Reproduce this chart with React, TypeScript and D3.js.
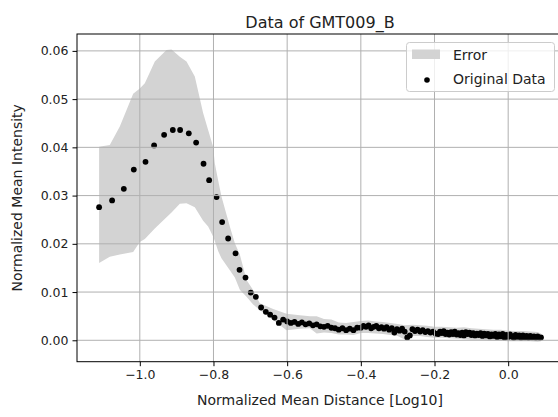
import React, { useRef, useEffect } from 'react'
import * as d3 from 'd3'

// log10 of normalized mean distance
const distX = [
  -1.1105, -1.0752, -1.0434, -1.0163, -0.9845, -0.9612, -0.934, -0.9104, -0.8906, -0.867,
  -0.8471, -0.827, -0.8118, -0.7917, -0.7765, -0.7602, -0.7401, -0.7293, -0.7131, -0.6988,
  -0.685, -0.6707, -0.6579, -0.6462, -0.6343, -0.6226, -0.6109,
  -0.6, -0.59, -0.58, -0.57, -0.56, -0.55, -0.54, -0.53, -0.52, -0.51,
  -0.5, -0.49, -0.48, -0.47, -0.46, -0.45, -0.44, -0.43, -0.42, -0.41,
  -0.4, -0.393, -0.386, -0.379, -0.372, -0.365, -0.358, -0.351, -0.344, -0.337,
  -0.33, -0.323, -0.316, -0.309, -0.302, -0.295, -0.288, -0.281, -0.274, -0.267,
  -0.26, -0.253, -0.246, -0.239, -0.232, -0.225, -0.218, -0.211, -0.204, -0.197,
  -0.19, -0.185, -0.18, -0.175, -0.17, -0.165, -0.16, -0.155, -0.15, -0.145,
  -0.14, -0.135, -0.13, -0.125, -0.12, -0.115, -0.11, -0.105, -0.1, -0.095,
  -0.09, -0.085, -0.08, -0.075, -0.07, -0.065, -0.06, -0.055, -0.05, -0.045,
  -0.04, -0.035, -0.03, -0.025, -0.02, -0.015, -0.01, -0.005, 0.0, 0.005,
  0.01, 0.015, 0.02, 0.025, 0.03, 0.035, 0.04, 0.045, 0.05, 0.055,
  0.06, 0.065, 0.07, 0.075, 0.08, 0.085, 0.089,
]

// normalized mean intensity for each point above
const intensity = [
  0.0276, 0.029, 0.0314, 0.0354, 0.037, 0.0404, 0.0426, 0.0436, 0.0436, 0.0429,
  0.041, 0.0366, 0.0332, 0.0297, 0.0245, 0.0211, 0.018, 0.0146, 0.013, 0.0099,
  0.009, 0.0068, 0.0059, 0.0053, 0.0047, 0.0036, 0.0043,
  0.0039, 0.0036, 0.0038, 0.0034, 0.0037, 0.0033, 0.0035, 0.0031, 0.0033, 0.0029,
  0.0028, 0.003, 0.0026, 0.0025, 0.0022, 0.0025, 0.0021, 0.0024, 0.0021, 0.0026,
  0.0026, 0.003, 0.0028, 0.0031, 0.0025, 0.0028, 0.003, 0.0025, 0.0027, 0.0024,
  0.0027, 0.0022, 0.0025, 0.0016, 0.0023, 0.002, 0.0024, 0.0018, 0.0006, 0.001,
  0.0023, 0.0019, 0.0022, 0.0018, 0.0021, 0.0017, 0.0019, 0.0016, 0.0018, 0.0014,
  0.0013, 0.0018, 0.0015, 0.0019, 0.0013, 0.0016, 0.0012, 0.0017, 0.0013, 0.0018,
  0.0012, 0.0015, 0.0011, 0.0016, 0.001, 0.0017, 0.0013, 0.0016, 0.0011, 0.0015,
  0.001, 0.0014, 0.0011, 0.0015, 0.0009, 0.0014, 0.001, 0.0013, 0.0008, 0.0012,
  0.0009, 0.0013, 0.0007, 0.0012, 0.0008, 0.0013, 0.0006, 0.0011, 0.0007, 0.0012,
  0.0008, 0.0005, 0.0011, 0.0007, 0.001, 0.0005, 0.001, 0.0006, 0.0009, 0.0005,
  0.0009, 0.0006, 0.0008, 0.0005, 0.0008, 0.0005, 0.0006,
]

// error band outline
const bandX = [
  -1.1105, -1.0815, -1.0543, -1.018, -1.0, -0.9864, -0.9593, -0.9275, -0.9139, -0.8914,
  -0.8732, -0.8507, -0.8281, -0.8145, -0.801, -0.7964, -0.7874, -0.7783, -0.7556, -0.742,
  -0.7285, -0.7103, -0.6924, -0.6742, -0.6381, -0.6017, -0.5656, -0.5384,
  -0.52, -0.5, -0.48, -0.46, -0.44, -0.42, -0.4, -0.38, -0.36, -0.34,
  -0.32, -0.3, -0.28, -0.26, -0.24, -0.22, -0.2, -0.18, -0.16, -0.14,
  -0.12, -0.1, -0.08, -0.06, -0.04, -0.02, 0.0, 0.02, 0.04, 0.06, 0.08, 0.089,
]
const bandHigh = [
  0.0401, 0.0405, 0.0443, 0.0511, 0.0522, 0.0533, 0.0578, 0.0602, 0.0603, 0.0588,
  0.0578, 0.0547, 0.0471, 0.0436, 0.0401, 0.0367, 0.0332, 0.0298, 0.0236, 0.0201,
  0.0178, 0.0125, 0.0104, 0.0077, 0.0065, 0.0055, 0.0052, 0.005,
  0.005, 0.0044, 0.0043, 0.0037, 0.0036, 0.0038, 0.004, 0.0041, 0.0039, 0.0038,
  0.0036, 0.0034, 0.0031, 0.0032, 0.0031, 0.003, 0.0028, 0.0028, 0.0027, 0.0026,
  0.0027, 0.0025, 0.0024, 0.0023, 0.0022, 0.0022, 0.002, 0.0019, 0.0019, 0.0018, 0.0017, 0.0014,
]
const bandLow = [
  0.016, 0.0173, 0.0178, 0.0183, 0.0204, 0.021, 0.0232, 0.0255, 0.0265, 0.0283,
  0.0284, 0.0276, 0.0248, 0.0236, 0.0215, 0.0206, 0.0185, 0.017, 0.0145, 0.013,
  0.0105, 0.009, 0.0074, 0.0063, 0.0042, 0.0021, 0.0024, 0.0025,
  0.0014, 0.0016, 0.0015, 0.0012, 0.0012, 0.0011, 0.0015, 0.0015, 0.0014, 0.0013,
  0.0011, 0.0009, 0.0001, 0.0009, 0.0009, 0.0007, 0.0005, 0.0005, 0.0004, 0.0003,
  0.0002, 0.0001, 0.0001, 0.0, -0.0001, -0.0001, -0.0002, -0.0002, -0.0002, -0.0002, -0.0003, -0.0002,
]

const xTicks = [-1.0, -0.8, -0.6, -0.4, -0.2, 0.0]
const yTicks = [0.0, 0.01, 0.02, 0.03, 0.04, 0.05, 0.06]

const W = 558
const H = 417
const FONT = 'DejaVu Sans, sans-serif'

export default function App() {
  const ref = useRef<SVGSVGElement>(null)

  useEffect(() => {
    const el = ref.current
    if (!el) return
    const svg = d3.select(el)
    svg.selectAll('*').remove()

    const left = 77, right = 563, top = 34, bottom = 361.7
    const x = d3.scaleLinear().domain([-1.1705, 0.1488]).range([left, right])
    const y = d3.scaleLinear().domain([-0.00444, 0.0635]).range([bottom, top])

    svg.append('rect').attr('width', W).attr('height', H).attr('fill', '#fff')

    svg.append('clipPath').attr('id', 'plot-clip')
      .append('rect').attr('x', left).attr('y', top).attr('width', right - left).attr('height', bottom - top)

    const plot = svg.append('g').attr('clip-path', 'url(#plot-clip)')

    const band = bandX.map((v, i) => ({ x: v, lo: bandLow[i], hi: bandHigh[i] }))
    const area = d3.area<{ x: number; lo: number; hi: number }>()
      .x(d => x(d.x)).y0(d => y(d.lo)).y1(d => y(d.hi))
    plot.append('path').datum(band).attr('d', area).attr('fill', '#d3d3d3')

    const pts = distX.map((v, i) => ({ x: v, y: intensity[i] }))
    plot.selectAll('circle.pt').data(pts).enter().append('circle')
      .attr('class', 'pt')
      .attr('cx', d => x(d.x)).attr('cy', d => y(d.y)).attr('r', 2.9)
      .attr('fill', '#000')

    // grid on top of the collections, like matplotlib
    const grid = svg.append('g').attr('stroke', '#b0b0b0').attr('stroke-width', 1)
    xTicks.forEach(t => {
      grid.append('line').attr('x1', x(t)).attr('x2', x(t)).attr('y1', top).attr('y2', bottom)
    })
    yTicks.forEach(t => {
      grid.append('line').attr('x1', left).attr('x2', right).attr('y1', y(t)).attr('y2', y(t))
    })

    const xAxis = d3.axisBottom(x).tickValues(xTicks).tickSize(4.5).tickPadding(4)
      .tickFormat(d => (d as number).toFixed(1).replace('-', '\u2212'))
    const yAxis = d3.axisLeft(y).tickValues(yTicks).tickSize(4.5).tickPadding(4)
      .tickFormat(d => (d as number).toFixed(2))

    const gx = svg.append('g').attr('transform', `translate(0, ${bottom})`).call(xAxis)
    const gy = svg.append('g').attr('transform', `translate(${left}, 0)`).call(yAxis)
    ;[gx, gy].forEach(g => {
      g.select('.domain').remove()
      g.selectAll('.tick line').attr('stroke', '#000').attr('stroke-width', 1)
      g.selectAll('text').attr('fill', '#222').attr('font-family', FONT).attr('font-size', 12.5)
    })

    svg.append('rect')
      .attr('x', left).attr('y', top).attr('width', right - left).attr('height', bottom - top)
      .attr('fill', 'none').attr('stroke', '#000').attr('stroke-width', 1)

    svg.append('text').attr('x', (left + right) / 2).attr('y', 28).attr('text-anchor', 'middle')
      .attr('font-family', FONT).attr('font-size', 16).attr('fill', '#222').text('Data of GMT009_B')

    svg.append('text').attr('x', (left + right) / 2).attr('y', 405).attr('text-anchor', 'middle')
      .attr('font-family', FONT).attr('font-size', 14).attr('fill', '#222')
      .text('Normalized Mean Distance [Log10]')

    svg.append('text').attr('transform', `translate(22, ${(top + bottom) / 2}) rotate(-90)`)
      .attr('text-anchor', 'middle')
      .attr('font-family', FONT).attr('font-size', 14).attr('fill', '#222')
      .text('Normalized Mean Intensity')

    const leg = svg.append('g')
    leg.append('rect').attr('x', 406.5).attr('y', 42.5).attr('width', 148).attr('height', 49).attr('rx', 3)
      .attr('fill', '#fff').attr('fill-opacity', 0.8).attr('stroke', '#cccccc')
    leg.append('rect').attr('x', 412).attr('y', 49.5).attr('width', 28).attr('height', 9.5).attr('fill', '#d3d3d3')
    leg.append('circle').attr('cx', 427).attr('cy', 80).attr('r', 2.8).attr('fill', '#000')
    leg.append('text').attr('x', 453).attr('y', 60).attr('font-family', FONT).attr('font-size', 14)
      .attr('fill', '#222').text('Error')
    leg.append('text').attr('x', 453).attr('y', 84).attr('font-family', FONT).attr('font-size', 14)
      .attr('fill', '#222').text('Original Data')
  }, [])

  return (
    <svg ref={ref} width={W} height={H}
      style={{ position: 'absolute', left: 0, top: 0, display: 'block' }} />
  )
}
